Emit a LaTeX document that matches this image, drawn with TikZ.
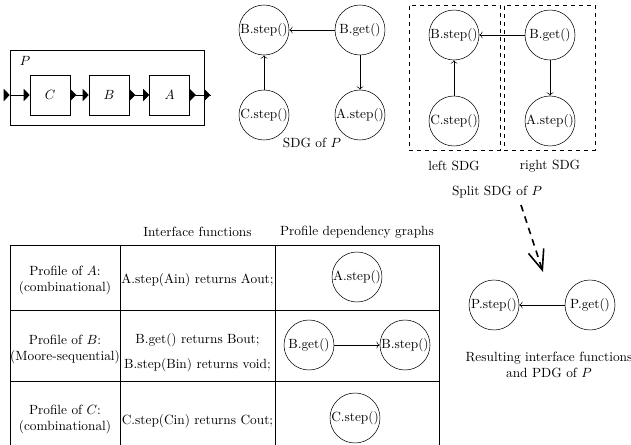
\documentclass[tikz,border=0pt]{standalone}
\usepackage{amsmath}
\usepackage{tikz}
\usetikzlibrary{arrows.meta}

\begin{document}
\begin{tikzpicture}[x=0.75pt, y=-0.75pt,
	fn/.style={draw, circle, inner sep=0pt, minimum size=37.5pt},
	blk/.style={draw, minimum width=30pt, minimum height=30pt},
	tri/.tip={Triangle[length=4.5pt, width=9pt]},
	port/.style={{tri[reversed]}-{tri}},
	splitbox/.style={draw, dashed, minimum width=68.25pt, minimum height=108.75pt},
	derive/.style={-{Straight Barb[length=15pt, width=12pt]}, line width=1.2pt, dash pattern=on 5pt off 4pt}]
	\useasboundingbox (0,0) rectangle (631,445);

	% system P
	\node[draw, minimum width=145.5pt, minimum height=56.25pt] (P) at (107,87.5) {};
	\node at (25,61) {$P$};
	\node[blk] (C) at (50,95) {$C$};
	\node[blk] (B) at (109,95) {$B$};
	\node[blk] (A) at (169.5,95) {$A$};
	\coordinate (Pin) at (4,95);
	\coordinate (Pout) at (210.5,95);
	\draw[-{tri}] (Pin) -- (P.west |- C.west);
	\draw[-{tri}] (P.west |- C.west) -- (C.west);
	\draw[port] (C.east) -- (B.west);
	\draw[port] (B.east) -- (A.west);
	\draw[{tri[reversed]}-] (A.east) -- (P.east |- A.east);
	\draw[{tri[reversed]}-] (P.east |- A.east) -- (Pout);

	% SDG of P
	\node[fn] (sBs) at (264,30) {B.step()};
	\node[fn] (sBg) at (360,30) {B.get()};
	\node[fn] (sCs) at (264,115) {C.step()};
	\node[fn] (sAs) at (360,115) {A.step()};
	\draw[->] (sBg) -- (sBs);
	\draw[->] (sCs) -- (sBs);
	\draw[->] (sBg) -- (sAs);
	\node at (312,143) {SDG of $P$};

	% split SDG
	\node[splitbox] (left) at (454.5,77.5) {};
	\node[splitbox] (right) at (549.5,77.5) {};
	\node[fn] (lBs) at (454,35) {B.step()};
	\node[fn] (rBg) at (550,35) {B.get()};
	\node[fn] (lCs) at (454,121) {C.step()};
	\node[fn] (rAs) at (550,121) {A.step()};
	\draw[->] (rBg) -- (lBs);
	\draw[->] (lCs) -- (lBs);
	\draw[->] (rBg) -- (rAs);
	\node at (454,166) {left SDG};
	\node at (550,166) {right SDG};
	\node (split) at (497,192) {Split SDG of $P$};

	\coordinate (dfrom) at (521,205);
	\coordinate (dto) at (543,272);
	\draw[derive] (dfrom) -- (dto);

	% resulting PDG
	\node[fn] (Ps) at (494,305) {P.step()};
	\node[fn] (Pg) at (590,305) {P.get()};
	\draw[->] (Pg) -- (Ps);
	\node[align=center] at (549,365) {Resulting interface functions\\and PDG of $P$};

	% profiles
	\node at (197.5,232) {Interface functions};
	\node at (357,232) {Profile dependency graphs};
	\foreach \y in {245,310,381} \draw (10,\y) -- (439,\y);
	\foreach \x in {10,120,275,439} \draw (\x,245) -- (\x,445);

	\node[align=center] at (65,280) {Profile of $A$:\\(combinational)};
	\node at (197.5,280) {A.step(Ain) returns Aout;};
	\node[fn] (tAs) at (357,277) {A.step()};

	\node[align=center] at (65,349) {Profile of $B$:\\(Moore-sequential)};
	\node at (197.5,340) {B.get() returns Bout;};
	\node at (197.5,365) {B.step(Bin) returns void;};
	\node[fn] (tBg) at (309,345) {B.get()};
	\node[fn] (tBs) at (405,345) {B.step()};
	\draw[->] (tBg) -- (tBs);

	\node[align=center] at (65,419) {Profile of $C$:\\(combinational)};
	\node at (197.5,421) {C.step(Cin) returns Cout;};
	\node[fn] (tCs) at (355,418) {C.step()};
\end{tikzpicture}
\end{document}
